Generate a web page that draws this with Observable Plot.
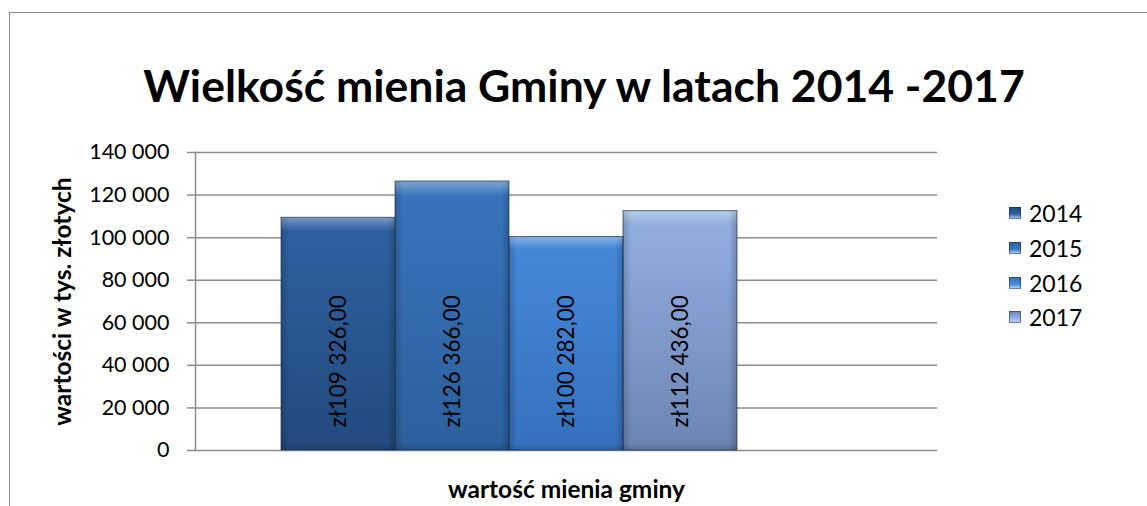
<!DOCTYPE html>
<html>
<head>
<meta charset="utf-8">
<script src="https://cdn.jsdelivr.net/npm/d3@7"></script>
<script src="https://cdn.jsdelivr.net/npm/@observablehq/plot@0.6"></script>
<style>
  html, body { margin: 0; padding: 0; background: #fff; }
  #wrap { position: relative; width: 1147px; height: 506px; overflow: hidden; font-family: Lato, "Open Sans", sans-serif; }
  #border { position: absolute; left: 9px; top: 12px; width: 1200px; height: 600px; border-left: 1.5px solid #888; border-top: 1.5px solid #888; }
  #title { position: absolute; left: 0; width: 1168px; top: 55px; text-align: center; font-weight: bold; font-size: 44.5px; color: #000; line-height: 60px; }
  #chart { position: absolute; left: 0; top: 0; }
  #legend { position: absolute; left: 1009px; top: 196px; font-size: 23px; color: #000; }
  .li { height: 34.7px; display: flex; align-items: center; }
  .sw { width: 12px; height: 12px; margin-right: 8px; box-shadow: inset 0 0 0 1px rgba(20,40,70,0.5); }
</style>
</head>
<body>
<div id="wrap">
  <div id="border"></div>
  <div id="title">Wielkość mienia Gminy w latach 2014 -2017</div>
  <div id="chart"></div>
  <div id="legend"></div>
</div>
<script>
// ---- data ----
const years = ["2014", "2015", "2016", "2017"];
const values = [109326, 126366, 100282, 112436];
const valueLabels = ["zł109 326,00", "zł126 366,00", "zł100 282,00", "zł112 436,00"];
const yTicks = [0, 20000, 40000, 60000, 80000, 100000, 120000, 140000];
const yTickLabels = ["0", "20 000", "40 000", "60 000", "80 000", "100 000", "120 000", "140 000"];
const yTitle = "wartości w tys. złotych";
const xTitle = "wartość mienia gminy";
// colours (top, bottom) per series
const topColors = ["#2f62a3", "#3975bd", "#4589da", "#94b0e2"];
const bottomColors = ["#224a7d", "#2c5f9c", "#3670bd", "#6c84b2"];

const data = years.map((y, i) => ({year: y, value: values[i], label: valueLabels[i], i}));

const chart = Plot.plot({
  width: 1147,
  height: 506,
  marginLeft: 195,
  marginRight: 210,
  marginTop: 152,
  marginBottom: 56,
  style: {fontFamily: "Lato, 'Open Sans', sans-serif", background: "transparent", overflow: "visible"},
  x: {domain: years, range: [281, 737], padding: 0, axis: null},
  y: {domain: [0, 140000], axis: null},
  marks: [
    Plot.ruleY(yTicks, {stroke: "#8c8c8c", strokeWidth: 1.5}),
    Plot.frame({anchor: "left", stroke: "#8c8c8c", strokeWidth: 1.5}),
    Plot.axisY({ticks: yTicks, tickSize: 8, tickPadding: 18, tickFormat: (d) => yTickLabels[yTicks.indexOf(d)], fontSize: 21.5, stroke: "#8c8c8c", strokeWidth: 1.5, color: "#000", label: null}),
    Plot.barY(data, {x: "year", y: "value", fill: d => `url(#grad${d.i})`, inset: 0}),
    Plot.barY(data, {x: "year", y: "value", fill: "url(#side)", inset: 0}),
    Plot.barY(data, {x: "year", y: "value", fill: "url(#topshade)", inset: 0, stroke: "#1c3357", strokeWidth: 1, strokeOpacity: 0.7}),
    Plot.text(data, {x: "year", y: 0, text: "label", rotate: -90, textAnchor: "start", lineAnchor: "middle", dy: -23, fontSize: 22.5, fill: "#000"}),
    Plot.text([yTitle], {frameAnchor: "left", dx: -132, rotate: -90, textAnchor: "middle", lineAnchor: "middle", fontWeight: "bold", fontSize: 24.5, fill: "#000"}),
    Plot.text([xTitle], {frameAnchor: "bottom", dy: 40, textAnchor: "middle", lineAnchor: "middle", fontWeight: "bold", fontSize: 24.5, fill: "#000"})
  ]
});

// gradient defs
const svg = d3.select(chart);
const defs = svg.insert("defs", ":first-child");
topColors.forEach((c, i) => {
  const g = defs.append("linearGradient").attr("id", "grad" + i).attr("x1", 0).attr("y1", 0).attr("x2", 0).attr("y2", 1);
  g.append("stop").attr("offset", "0%").attr("stop-color", c);
  g.append("stop").attr("offset", "100%").attr("stop-color", bottomColors[i]);
});
const side = defs.append("linearGradient").attr("id", "side").attr("x1", 0).attr("y1", 0).attr("x2", 1).attr("y2", 0);
side.append("stop").attr("offset", "0%").attr("stop-color", "#000").attr("stop-opacity", 0.18);
side.append("stop").attr("offset", "7%").attr("stop-color", "#000").attr("stop-opacity", 0);
side.append("stop").attr("offset", "93%").attr("stop-color", "#000").attr("stop-opacity", 0);
side.append("stop").attr("offset", "100%").attr("stop-color", "#000").attr("stop-opacity", 0.2);
const ts = defs.append("linearGradient").attr("id", "topshade").attr("x1", 0).attr("y1", 0).attr("x2", 0).attr("y2", 1)
  .attr("gradientUnits", "objectBoundingBox");
ts.append("stop").attr("offset", "0%").attr("stop-color", "#fff").attr("stop-opacity", 0.35);
ts.append("stop").attr("offset", "4%").attr("stop-color", "#fff").attr("stop-opacity", 0.1);
ts.append("stop").attr("offset", "6%").attr("stop-color", "#fff").attr("stop-opacity", 0);
ts.append("stop").attr("offset", "97%").attr("stop-color", "#000").attr("stop-opacity", 0);
ts.append("stop").attr("offset", "100%").attr("stop-color", "#000").attr("stop-opacity", 0.15);

document.getElementById("chart").appendChild(chart);

// legend
const legend = document.getElementById("legend");
years.forEach((y, i) => {
  const row = document.createElement("div");
  row.className = "li";
  const sw = document.createElement("span");
  sw.className = "sw";
  sw.style.background = `linear-gradient(${bottomColors[i]}, ${topColors[i]} 60%, #c8dcf5)`;
  const t = document.createElement("span");
  t.textContent = y;
  row.appendChild(sw);
  row.appendChild(t);
  legend.appendChild(row);
});
</script>
</body>
</html>
